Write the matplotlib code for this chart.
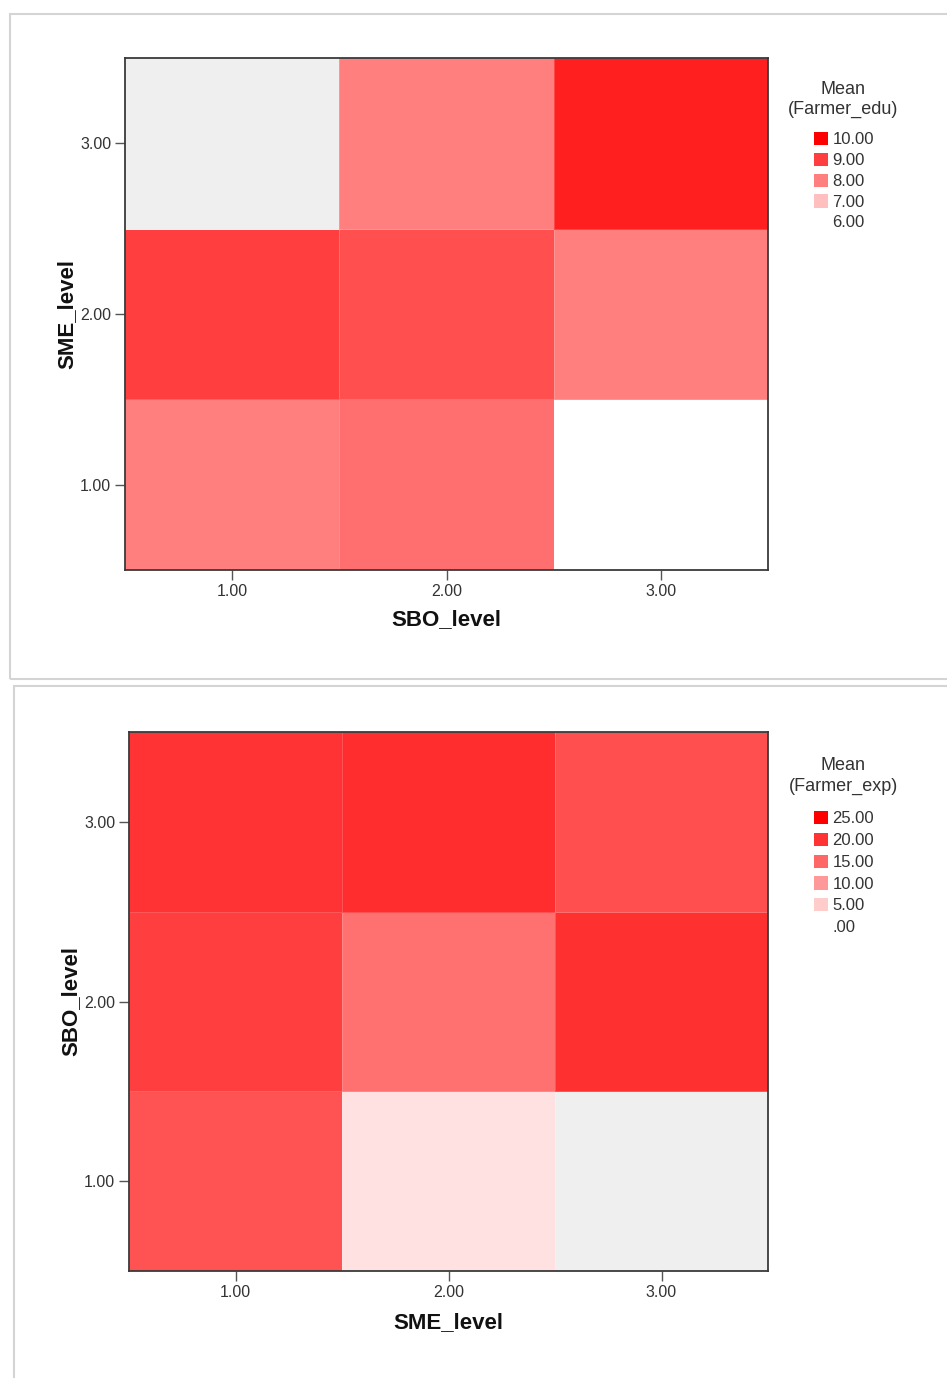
import numpy as np
import matplotlib.pyplot as plt
from matplotlib.colors import LinearSegmentedColormap, Normalize
from matplotlib.patches import Patch, Rectangle

plt.rcParams['font.family'] = ['Liberation Sans', 'DejaVu Sans']

W, H = 947, 1378

# datos (filas = eje y, columnas = eje x); nan = celda vacia
levels = [1.0, 2.0, 3.0]
tick_labels = ["1.00", "2.00", "3.00"]

edu_mean = np.array([
    [8.0, 8.25, 6.0],      # SME_level 1
    [9.0, 8.75, 8.0],      # SME_level 2
    [np.nan, 8.0, 9.5],    # SME_level 3
])
edu_legend = [10.0, 9.0, 8.0, 7.0, 6.0]
edu_legend_labels = ["10.00", "9.00", "8.00", "7.00", "6.00"]

exp_mean = np.array([
    [16.8, 3.0, np.nan],   # SBO_level 1
    [18.8, 14.0, 20.3],    # SBO_level 2
    [20.0, 20.6, 17.2],    # SBO_level 3
])
exp_legend = [25.0, 20.0, 15.0, 10.0, 5.0, 0.0]
exp_legend_labels = ["25.00", "20.00", "15.00", "10.00", "5.00", ".00"]

cmap = LinearSegmentedColormap.from_list("wr", ["#ffffff", "#ff0000"])
cmap.set_bad("#efefef")

fig = plt.figure(figsize=(W / 100, H / 100), dpi=100)


def px_axes(left, top, right, bottom):
    return fig.add_axes([left / W, 1 - bottom / H, (right - left) / W, (bottom - top) / H])


def panel_border(x0, y0, x1, y1):
    fig.patches.append(Rectangle((x0 / W, 1 - y1 / H), (x1 - x0) / W, (y1 - y0) / H,
                                 transform=fig.transFigure, fill=False,
                                 edgecolor="#d4d4d4", linewidth=1.5))


def heatmap(ax, data, vmin, vmax, xlabel, ylabel, legend_vals, legend_labels,
            legend_title, title_y, legend_top, spacing):
    norm = Normalize(vmin, vmax)
    edges = np.arange(0.5, 4.0, 1.0)
    ax.pcolormesh(edges, edges, np.ma.masked_invalid(data), cmap=cmap, norm=norm,
                  edgecolors=(1, 1, 1, 0.18), linewidth=0.6)
    ax.set_xlim(0.5, 3.5)
    ax.set_ylim(0.5, 3.5)
    ax.set_xticks(levels)
    ax.set_xticklabels(tick_labels)
    ax.set_yticks(levels)
    ax.set_yticklabels(tick_labels)
    ax.tick_params(length=7, width=1, color="#555555", labelsize=11.5,
                   labelcolor="#333333", pad=3)
    for s in ax.spines.values():
        s.set_color("#3a3a3a")
        s.set_linewidth(1.3)
    ax.set_xlabel(xlabel, fontsize=16, fontweight="bold", color="#111111")
    ax.set_ylabel(ylabel, fontsize=16, fontweight="bold", color="#111111")
    ax.xaxis.set_label_coords(0.5, -0.076)
    ax.yaxis.set_label_coords(-0.074, 0.5)

    # titulo de la leyenda (dos lineas centradas)
    for line, y in zip(legend_title, title_y):
        fig.text(843 / W, 1 - y / H, line, ha="center", va="center",
                 fontsize=13, color="#333333")

    handles = [Patch(facecolor=cmap(norm(v)), edgecolor="none") for v in legend_vals]
    fig.legend(handles, legend_labels, loc="upper left",
               bbox_to_anchor=(814 / W, 1 - legend_top / H),
               frameon=False, fontsize=12, labelcolor="#333333",
               handlelength=0.85, handleheight=0.85, handletextpad=0.25,
               labelspacing=spacing, borderpad=0, borderaxespad=0)


panel_border(10, 14, 975, 679)
panel_border(14, 686, 975, 1400)

ax1 = px_axes(125, 58, 768, 570)
heatmap(ax1, edu_mean, 6, 10, "SBO_level", "SME_level", edu_legend, edu_legend_labels,
        ["Mean", "(Farmer_edu)"], [90, 109], 132, 0.32)

ax2 = px_axes(129, 732, 768, 1271)
heatmap(ax2, exp_mean, 0, 25, "SME_level", "SBO_level", exp_legend, exp_legend_labels,
        ["Mean", "(Farmer_exp)"], [765, 786], 811, 0.38)

fig.savefig("out.png", dpi=100)
